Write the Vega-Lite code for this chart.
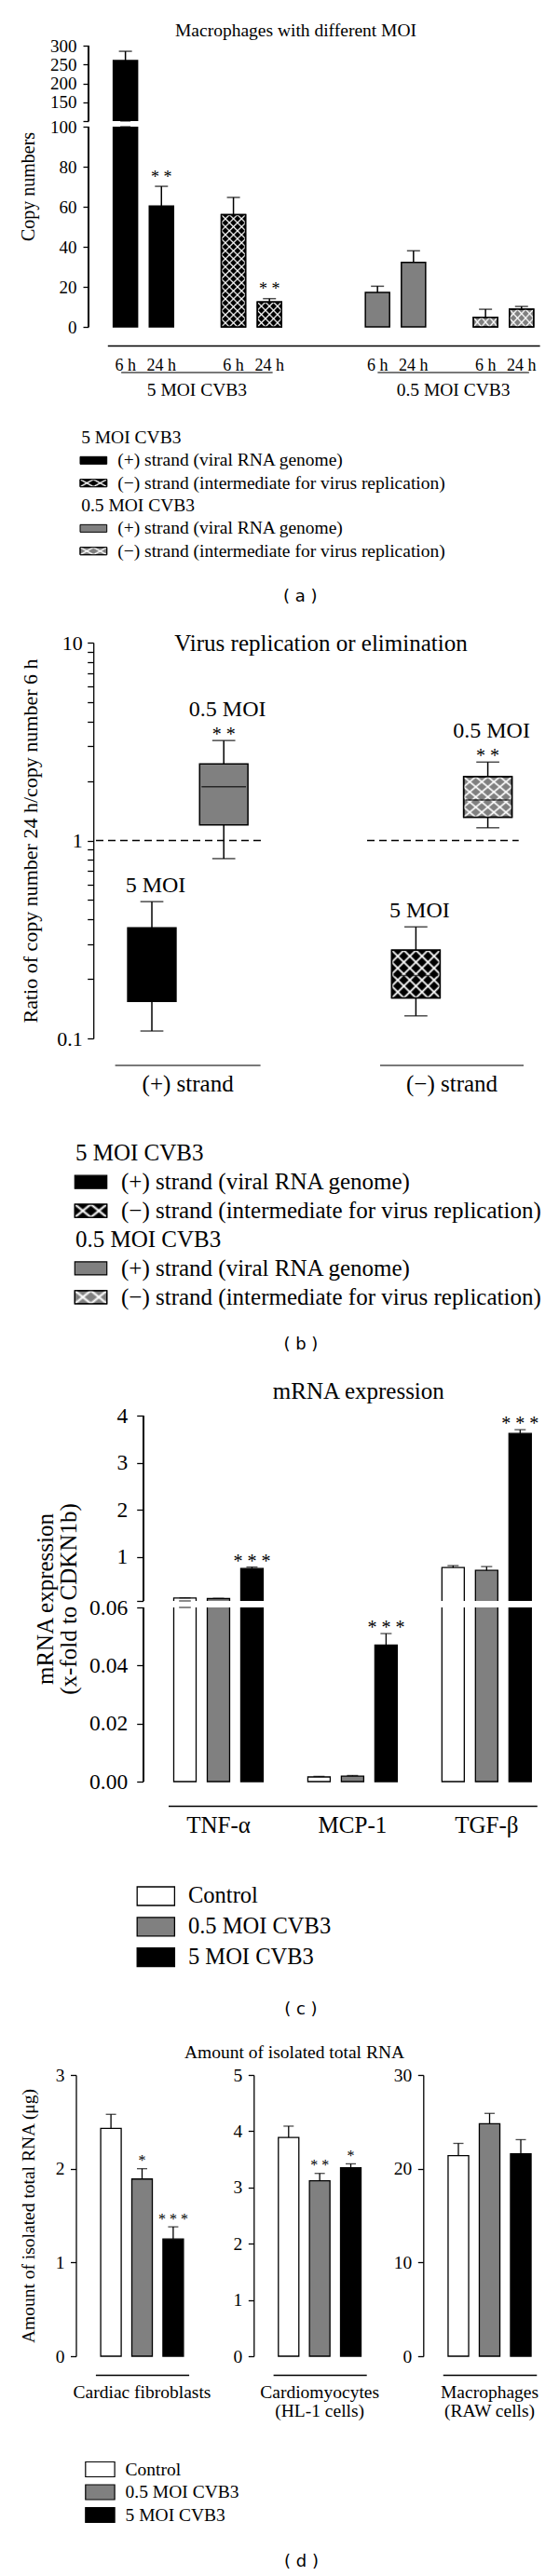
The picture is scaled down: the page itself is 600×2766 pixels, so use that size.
{
"$schema": "https://vega.github.io/schema/vega-lite/v6.json",
"width": 600,
"height": 2766,
"padding": 0,
"autosize": {"type": "none"},
"background": "white",
"config": {
  "view": {"stroke": null},
  "font": "Liberation Serif",
  "axis": {"domainColor": "black", "domainWidth": 1.3, "tickColor": "black", "tickWidth": 1.3, "labelColor": "black", "titleColor": "black", "labelFont": "Liberation Serif", "titleFont": "Liberation Serif", "titleFontWeight": "normal", "grid": false, "labelOverlap": false, "labelFlush": false, "labelBound": false, "titleLimit": 1000, "labelLimit": 1000},
  "text": {"color": "black", "font": "Liberation Serif"}
},
"datasets": {
  "a": [
    {"moi": "5 MOI CVB3", "strand": "+", "time": "6 h", "bar": "5+ 6 h", "copies": 260.5, "upper": 285, "sig": ""},
    {"moi": "5 MOI CVB3", "strand": "+", "time": "24 h", "bar": "5+ 24 h", "copies": 60.3, "upper": 70.2, "sig": "* *"},
    {"moi": "5 MOI CVB3", "strand": "−", "time": "6 h", "bar": "5− 6 h", "copies": 56, "upper": 64.7, "sig": ""},
    {"moi": "5 MOI CVB3", "strand": "−", "time": "24 h", "bar": "5− 24 h", "copies": 12.4, "upper": 14.1, "sig": "* *"},
    {"moi": "0.5 MOI CVB3", "strand": "+", "time": "6 h", "bar": "0.5+ 6 h", "copies": 17.2, "upper": 20.3, "sig": ""},
    {"moi": "0.5 MOI CVB3", "strand": "+", "time": "24 h", "bar": "0.5+ 24 h", "copies": 32.2, "upper": 38.0, "sig": ""},
    {"moi": "0.5 MOI CVB3", "strand": "−", "time": "6 h", "bar": "0.5− 6 h", "copies": 4.8, "upper": 8.8, "sig": ""},
    {"moi": "0.5 MOI CVB3", "strand": "−", "time": "24 h", "bar": "0.5− 24 h", "copies": 8.8, "upper": 10.2, "sig": ""}
  ],
  "legendAB": [
    {"row": "h5", "kind": "header", "label": "5 MOI CVB3", "moi": "5 MOI CVB3", "strand": ""},
    {"row": "i1", "kind": "item", "label": "(+) strand (viral RNA genome)", "moi": "5 MOI CVB3", "strand": "+"},
    {"row": "i2", "kind": "item", "label": "(−) strand (intermediate for virus replication)", "moi": "5 MOI CVB3", "strand": "−"},
    {"row": "h05", "kind": "header", "label": "0.5 MOI CVB3", "moi": "0.5 MOI CVB3", "strand": ""},
    {"row": "i3", "kind": "item", "label": "(+) strand (viral RNA genome)", "moi": "0.5 MOI CVB3", "strand": "+"},
    {"row": "i4", "kind": "item", "label": "(−) strand (intermediate for virus replication)", "moi": "0.5 MOI CVB3", "strand": "−"}
  ],
  "b": [
    {"strand": "(+) strand", "moi": "5 MOI", "lower": 0.109, "q1": 0.154, "median": 0.25, "q3": 0.362, "upper": 0.491, "sig": ""},
    {"strand": "(+) strand", "moi": "0.5 MOI", "lower": 0.81, "q1": 1.2, "median": 1.87, "q3": 2.44, "upper": 3.2, "sig": "* *"},
    {"strand": "(−) strand", "moi": "5 MOI", "lower": 0.13, "q1": 0.16, "median": 0.208, "q3": 0.279, "upper": 0.366, "sig": ""},
    {"strand": "(−) strand", "moi": "0.5 MOI", "lower": 1.16, "q1": 1.31, "median": 1.6, "q3": 2.1, "upper": 2.49, "sig": "* *"}
  ],
  "c": [
    {"gene": "TNF-α", "group": "Control", "bar": "TNF-α|Control", "value": 0.12, "upper": 0.125, "sig": ""},
    {"gene": "TNF-α", "group": "0.5 MOI CVB3", "bar": "TNF-α|0.5 MOI CVB3", "value": 0.11, "upper": 0.115, "sig": ""},
    {"gene": "TNF-α", "group": "5 MOI CVB3", "bar": "TNF-α|5 MOI CVB3", "value": 0.75, "upper": 0.78, "sig": "* * *"},
    {"gene": "MCP-1", "group": "Control", "bar": "MCP-1|Control", "value": 0.0016, "upper": 0.0018, "sig": ""},
    {"gene": "MCP-1", "group": "0.5 MOI CVB3", "bar": "MCP-1|0.5 MOI CVB3", "value": 0.0019, "upper": 0.0021, "sig": ""},
    {"gene": "MCP-1", "group": "5 MOI CVB3", "bar": "MCP-1|5 MOI CVB3", "value": 0.047, "upper": 0.051, "sig": "* * *"},
    {"gene": "TGF-β", "group": "Control", "bar": "TGF-β|Control", "value": 0.77, "upper": 0.81, "sig": ""},
    {"gene": "TGF-β", "group": "0.5 MOI CVB3", "bar": "TGF-β|0.5 MOI CVB3", "value": 0.71, "upper": 0.79, "sig": ""},
    {"gene": "TGF-β", "group": "5 MOI CVB3", "bar": "TGF-β|5 MOI CVB3", "value": 3.62, "upper": 3.7, "sig": "* * *"}
  ],
  "legendCD": [
    {"group": "Control"}, {"group": "0.5 MOI CVB3"}, {"group": "5 MOI CVB3"}
  ],
  "d": [
    {"cells": "Cardiac fibroblasts", "group": "Control", "bar": "Cardiac fibroblasts/Control", "amount": 2.43, "upper": 2.58, "sig": ""},
    {"cells": "Cardiac fibroblasts", "group": "0.5 MOI CVB3", "bar": "Cardiac fibroblasts/0.5 MOI CVB3", "amount": 1.89, "upper": 2.0, "sig": "*"},
    {"cells": "Cardiac fibroblasts", "group": "5 MOI CVB3", "bar": "Cardiac fibroblasts/5 MOI CVB3", "amount": 1.25, "upper": 1.38, "sig": "* * *"},
    {"cells": "Cardiomyocytes (HL-1 cells)", "group": "Control", "bar": "Cardiomyocytes (HL-1 cells)/Control", "amount": 3.89, "upper": 4.09, "sig": ""},
    {"cells": "Cardiomyocytes (HL-1 cells)", "group": "0.5 MOI CVB3", "bar": "Cardiomyocytes (HL-1 cells)/0.5 MOI CVB3", "amount": 3.12, "upper": 3.25, "sig": "* *"},
    {"cells": "Cardiomyocytes (HL-1 cells)", "group": "5 MOI CVB3", "bar": "Cardiomyocytes (HL-1 cells)/5 MOI CVB3", "amount": 3.35, "upper": 3.42, "sig": "*"},
    {"cells": "Macrophages (RAW cells)", "group": "Control", "bar": "Macrophages (RAW cells)/Control", "amount": 21.4, "upper": 22.7, "sig": ""},
    {"cells": "Macrophages (RAW cells)", "group": "0.5 MOI CVB3", "bar": "Macrophages (RAW cells)/0.5 MOI CVB3", "amount": 24.8, "upper": 25.9, "sig": ""},
    {"cells": "Macrophages (RAW cells)", "group": "5 MOI CVB3", "bar": "Macrophages (RAW cells)/5 MOI CVB3", "amount": 21.6, "upper": 23.1, "sig": ""}
  ]
},
"layer": [
  {
    "layer": [
      {
        "data": {"name": "a"},
        "layer": [
          {
            "mark": {"type": "bar", "stroke": "black", "strokeWidth": 1.5},
            "encoding": {
              "x": {"field": "bar", "type": "nominal",
                "scale": {"domain": ["5+ 6 h", "5+ 24 h", "a-gap1", "5− 6 h", "5− 24 h", "a-gap2", "a-gap3", "0.5+ 6 h", "0.5+ 24 h", "a-gap4", "0.5− 6 h", "0.5− 24 h"], "range": [115.3, 579.1], "paddingInner": 0.327, "paddingOuter": 0.1635},
                "axis": {"orient": "bottom", "offset": -2395, "ticks": false, "labelAngle": 0, "labelFontSize": 18, "labelPadding": 12, "labelExpr": "indexof(datum.value, ' ') < 0 ? '' : slice(datum.value, indexof(datum.value, ' ') + 1)", "title": null}},
              "y": {"field": "copies", "type": "quantitative",
                "scale": {"domain": [0, 100, 100.01, 300], "range": [351, 136, 130, 49], "nice": false, "zero": false},
                "axis": {"orient": "left", "offset": -95, "domain": false, "values": [0, 20, 40, 60, 80, 100, 100.01, 150, 200, 250, 300], "labelExpr": "datum.value == 100.01 ? '' : datum.label", "tickSize": 6, "labelPadding": 7, "labelFontSize": 19, "title": "Copy numbers", "titleFontSize": 20, "titleAngle": -90, "titleX": -64.4, "titleY": 200, "titleBaseline": "middle", "titleAlign": "center"}},
              "fill": {"condition": {"test": "datum.moi == '0.5 MOI CVB3'", "value": "#808080"}, "value": "black"}
            }
          },
          {
            "transform": [{"filter": "datum.strand == '−'"}],
            "mark": {"type": "bar", "strokeWidth": 0},
            "encoding": {
              "x": {"field": "bar", "type": "nominal"},
              "y": {"field": "copies", "type": "quantitative"},
              "fill": {"condition": [
                {"test": "datum.bar == '5− 6 h'", "value": {"gradient": "linear", "x1": 0, "y1": 0, "x2": 0.24878, "y2": 1.16098, "stops": [{"offset":0.04706,"color":"#fff0"},{"offset":0.05882,"color":"#fff"},{"offset":0.07059,"color":"#fff0"},{"offset":0.10588,"color":"#fff0"},{"offset":0.11765,"color":"#fff"},{"offset":0.12941,"color":"#fff0"},{"offset":0.16471,"color":"#fff0"},{"offset":0.17647,"color":"#fff"},{"offset":0.18824,"color":"#fff0"},{"offset":0.22353,"color":"#fff0"},{"offset":0.23529,"color":"#fff"},{"offset":0.24706,"color":"#fff0"},{"offset":0.28235,"color":"#fff0"},{"offset":0.29412,"color":"#fff"},{"offset":0.30588,"color":"#fff0"},{"offset":0.34118,"color":"#fff0"},{"offset":0.35294,"color":"#fff"},{"offset":0.36471,"color":"#fff0"},{"offset":0.4,"color":"#fff0"},{"offset":0.41176,"color":"#fff"},{"offset":0.42353,"color":"#fff0"},{"offset":0.45882,"color":"#fff0"},{"offset":0.47059,"color":"#fff"},{"offset":0.48235,"color":"#fff0"},{"offset":0.51765,"color":"#fff0"},{"offset":0.52941,"color":"#fff"},{"offset":0.54118,"color":"#fff0"},{"offset":0.57647,"color":"#fff0"},{"offset":0.58824,"color":"#fff"},{"offset":0.6,"color":"#fff0"},{"offset":0.63529,"color":"#fff0"},{"offset":0.64706,"color":"#fff"},{"offset":0.65882,"color":"#fff0"},{"offset":0.69412,"color":"#fff0"},{"offset":0.70588,"color":"#fff"},{"offset":0.71765,"color":"#fff0"},{"offset":0.75294,"color":"#fff0"},{"offset":0.76471,"color":"#fff"},{"offset":0.77647,"color":"#fff0"},{"offset":0.81176,"color":"#fff0"},{"offset":0.82353,"color":"#fff"},{"offset":0.83529,"color":"#fff0"},{"offset":0.87059,"color":"#fff0"},{"offset":0.88235,"color":"#fff"},{"offset":0.89412,"color":"#fff0"},{"offset":0.92941,"color":"#fff0"},{"offset":0.94118,"color":"#fff"},{"offset":0.95294,"color":"#fff0"}]}},
                {"test": "datum.bar == '5− 24 h'", "value": {"gradient": "linear", "x1": 0, "y1": 0, "x2": 1, "y2": 1, "stops": [{"offset":0.13333,"color":"#fff0"},{"offset":0.16667,"color":"#fff"},{"offset":0.2,"color":"#fff0"},{"offset":0.3,"color":"#fff0"},{"offset":0.33333,"color":"#fff"},{"offset":0.36667,"color":"#fff0"},{"offset":0.46667,"color":"#fff0"},{"offset":0.5,"color":"#fff"},{"offset":0.53333,"color":"#fff0"},{"offset":0.63333,"color":"#fff0"},{"offset":0.66667,"color":"#fff"},{"offset":0.7,"color":"#fff0"},{"offset":0.8,"color":"#fff0"},{"offset":0.83333,"color":"#fff"},{"offset":0.86667,"color":"#fff0"}]}},
                {"test": "datum.bar == '0.5− 6 h'", "value": {"gradient": "linear", "x1": 0, "y1": 0, "x2": 1.2, "y2": 0.4, "stops": [{"offset":0.2,"color":"#fff0"},{"offset":0.25,"color":"#fff"},{"offset":0.3,"color":"#fff0"},{"offset":0.45,"color":"#fff0"},{"offset":0.5,"color":"#fff"},{"offset":0.55,"color":"#fff0"},{"offset":0.7,"color":"#fff0"},{"offset":0.75,"color":"#fff"},{"offset":0.8,"color":"#fff0"}]}}
              ], "value": {"gradient": "linear", "x1": 0, "y1": 0, "x2": 1.15385, "y2": 0.76923, "stops": [{"offset":0.16,"color":"#fff0"},{"offset":0.2,"color":"#fff"},{"offset":0.24,"color":"#fff0"},{"offset":0.36,"color":"#fff0"},{"offset":0.4,"color":"#fff"},{"offset":0.44,"color":"#fff0"},{"offset":0.56,"color":"#fff0"},{"offset":0.6,"color":"#fff"},{"offset":0.64,"color":"#fff0"},{"offset":0.76,"color":"#fff0"},{"offset":0.8,"color":"#fff"},{"offset":0.84,"color":"#fff0"}]}}
            }
          },
          {
            "transform": [{"filter": "datum.strand == '−'"}],
            "mark": {"type": "bar", "stroke": "black", "strokeWidth": 1.5},
            "encoding": {
              "x": {"field": "bar", "type": "nominal"},
              "y": {"field": "copies", "type": "quantitative"},
              "fill": {"condition": [
                {"test": "datum.bar == '5− 6 h'", "value": {"gradient": "linear", "x1": 0, "y1": 1, "x2": 0.24878, "y2": -0.16098, "stops": [{"offset":0.04706,"color":"#fff0"},{"offset":0.05882,"color":"#fff"},{"offset":0.07059,"color":"#fff0"},{"offset":0.10588,"color":"#fff0"},{"offset":0.11765,"color":"#fff"},{"offset":0.12941,"color":"#fff0"},{"offset":0.16471,"color":"#fff0"},{"offset":0.17647,"color":"#fff"},{"offset":0.18824,"color":"#fff0"},{"offset":0.22353,"color":"#fff0"},{"offset":0.23529,"color":"#fff"},{"offset":0.24706,"color":"#fff0"},{"offset":0.28235,"color":"#fff0"},{"offset":0.29412,"color":"#fff"},{"offset":0.30588,"color":"#fff0"},{"offset":0.34118,"color":"#fff0"},{"offset":0.35294,"color":"#fff"},{"offset":0.36471,"color":"#fff0"},{"offset":0.4,"color":"#fff0"},{"offset":0.41176,"color":"#fff"},{"offset":0.42353,"color":"#fff0"},{"offset":0.45882,"color":"#fff0"},{"offset":0.47059,"color":"#fff"},{"offset":0.48235,"color":"#fff0"},{"offset":0.51765,"color":"#fff0"},{"offset":0.52941,"color":"#fff"},{"offset":0.54118,"color":"#fff0"},{"offset":0.57647,"color":"#fff0"},{"offset":0.58824,"color":"#fff"},{"offset":0.6,"color":"#fff0"},{"offset":0.63529,"color":"#fff0"},{"offset":0.64706,"color":"#fff"},{"offset":0.65882,"color":"#fff0"},{"offset":0.69412,"color":"#fff0"},{"offset":0.70588,"color":"#fff"},{"offset":0.71765,"color":"#fff0"},{"offset":0.75294,"color":"#fff0"},{"offset":0.76471,"color":"#fff"},{"offset":0.77647,"color":"#fff0"},{"offset":0.81176,"color":"#fff0"},{"offset":0.82353,"color":"#fff"},{"offset":0.83529,"color":"#fff0"},{"offset":0.87059,"color":"#fff0"},{"offset":0.88235,"color":"#fff"},{"offset":0.89412,"color":"#fff0"},{"offset":0.92941,"color":"#fff0"},{"offset":0.94118,"color":"#fff"},{"offset":0.95294,"color":"#fff0"}]}},
                {"test": "datum.bar == '5− 24 h'", "value": {"gradient": "linear", "x1": 0, "y1": 1, "x2": 1, "y2": 0, "stops": [{"offset":0.13333,"color":"#fff0"},{"offset":0.16667,"color":"#fff"},{"offset":0.2,"color":"#fff0"},{"offset":0.3,"color":"#fff0"},{"offset":0.33333,"color":"#fff"},{"offset":0.36667,"color":"#fff0"},{"offset":0.46667,"color":"#fff0"},{"offset":0.5,"color":"#fff"},{"offset":0.53333,"color":"#fff0"},{"offset":0.63333,"color":"#fff0"},{"offset":0.66667,"color":"#fff"},{"offset":0.7,"color":"#fff0"},{"offset":0.8,"color":"#fff0"},{"offset":0.83333,"color":"#fff"},{"offset":0.86667,"color":"#fff0"}]}},
                {"test": "datum.bar == '0.5− 6 h'", "value": {"gradient": "linear", "x1": 0, "y1": 1, "x2": 1.2, "y2": 0.6, "stops": [{"offset":0.2,"color":"#fff0"},{"offset":0.25,"color":"#fff"},{"offset":0.3,"color":"#fff0"},{"offset":0.45,"color":"#fff0"},{"offset":0.5,"color":"#fff"},{"offset":0.55,"color":"#fff0"},{"offset":0.7,"color":"#fff0"},{"offset":0.75,"color":"#fff"},{"offset":0.8,"color":"#fff0"}]}}
              ], "value": {"gradient": "linear", "x1": 0, "y1": 1, "x2": 1.15385, "y2": 0.23077, "stops": [{"offset":0.16,"color":"#fff0"},{"offset":0.2,"color":"#fff"},{"offset":0.24,"color":"#fff0"},{"offset":0.36,"color":"#fff0"},{"offset":0.4,"color":"#fff"},{"offset":0.44,"color":"#fff0"},{"offset":0.56,"color":"#fff0"},{"offset":0.6,"color":"#fff"},{"offset":0.64,"color":"#fff0"},{"offset":0.76,"color":"#fff0"},{"offset":0.8,"color":"#fff"},{"offset":0.84,"color":"#fff0"}]}}
            }
          },
          {
            "mark": {"type": "bar", "fill": "white", "width": {"band": 1.25}},
            "encoding": {
              "x": {"field": "bar", "type": "nominal"},
              "y": {"datum": 100},
              "y2": {"datum": 100.01}
            }
          },
          {
            "mark": {"type": "rule", "color": "black", "strokeWidth": 1.3},
            "encoding": {
              "x": {"datum": "5+ 6 h", "bandPosition": -1.0235},
              "y": {"datum": 0},
              "y2": {"datum": 100}
            }
          },
          {
            "mark": {"type": "rule", "color": "black", "strokeWidth": 1.3},
            "encoding": {
              "x": {"datum": "5+ 6 h", "bandPosition": -1.0235},
              "y": {"datum": 100.01},
              "y2": {"datum": 300}
            }
          },
          {
            "data": {"values": [{}]},
            "mark": {"type": "tick", "orient": "horizontal", "size": 11, "thickness": 1.3, "color": "black"},
            "encoding": {
              "x": {"datum": "5+ 6 h", "bandPosition": -1.0427},
              "y": {"datum": 100}
            }
          },
          {
            "data": {"values": [{}]},
            "mark": {"type": "tick", "orient": "horizontal", "size": 11, "thickness": 1.3, "color": "black"},
            "encoding": {
              "x": {"datum": "5+ 6 h", "bandPosition": -1.0427},
              "y": {"datum": 100.01}
            }
          },
          {
            "mark": {"type": "rule", "color": "black", "strokeWidth": 1.5},
            "encoding": {
              "x": {"field": "bar", "type": "nominal"},
              "y": {"field": "copies", "type": "quantitative"},
              "y2": {"field": "upper"}
            }
          },
          {
            "mark": {"type": "tick", "orient": "horizontal", "size": 14, "thickness": 1.5, "color": "black"},
            "encoding": {
              "x": {"field": "bar", "type": "nominal"},
              "y": {"field": "upper", "type": "quantitative"}
            }
          },
          {
            "mark": {"type": "text", "fontSize": 18, "baseline": "alphabetic", "dy": -4.5},
            "encoding": {
              "x": {"field": "bar", "type": "nominal"},
              "y": {"field": "upper", "type": "quantitative"},
              "text": {"field": "sig"}
            }
          }
        ]
      },
      {
        "data": {"values": [{"moi": "5 MOI CVB3"}, {"moi": "0.5 MOI CVB3"}]},
        "mark": {"type": "tick", "orient": "horizontal", "size": 162.5, "thickness": 1.3, "color": "black", "yOffset": 49},
        "encoding": {
          "x": {"field": "moi", "type": "nominal",
            "scale": {"domain": ["5 MOI CVB3", "0.5 MOI CVB3"], "range": [130, 568], "paddingInner": 0.4087, "paddingOuter": 0},
            "axis": {"orient": "bottom", "offset": -2365, "domain": false, "ticks": false, "labelAngle": 0, "labelFontSize": 19.5, "labelPadding": 8, "title": "Macrophages with different MOI", "titleFontSize": 19.5, "titleX": 317, "titleY": -369, "titleBaseline": "middle", "titleAlign": "center"}},
          "y": {"datum": 0}
        }
      }
    ],
    "resolve": {"scale": {"x": "independent"}}
  },
  {
    "data": {"name": "legendAB"},
    "layer": [
      {
        "transform": [{"filter": "datum.kind == 'item'"}],
        "mark": {"type": "bar", "stroke": "black", "strokeWidth": 1},
        "encoding": {
          "y": {"field": "row", "type": "nominal", "scale": {"domain": ["h5", "i1", "i2", "h05", "i3", "i4"], "range": [457.83, 603.87], "paddingInner": 0.671, "paddingOuter": 0.3355}, "axis": null},
          "x": {"datum": 0, "type": "quantitative", "scale": {"domain": [0, 1], "range": [86, 114.7], "zero": false, "nice": false},
            "axis": {"orient": "bottom", "offset": -2125.3, "domain": false, "ticks": false, "labels": false, "title": "( a )", "titleFont": "DejaVu Sans", "titleFontSize": 18, "titleX": 321.7, "titleY": 0, "titleBaseline": "middle", "titleAlign": "center"}},
          "x2": {"datum": 1},
          "fill": {"condition": {"test": "datum.moi == '0.5 MOI CVB3'", "value": "#808080"}, "value": "black"}
        }
      },
      {
        "transform": [{"filter": "datum.kind == 'item' && datum.strand == '−'"}],
        "mark": {"type": "bar", "strokeWidth": 0},
        "encoding": {
          "y": {"field": "row", "type": "nominal"},
          "x": {"datum": 0, "type": "quantitative"},
          "x2": {"datum": 1},
          "fill": {"value": {"gradient": "linear", "x1": 0, "y1": 0, "x2": 1.2, "y2": 0.6, "stops": [{"offset":0.26667,"color":"#fff0"},{"offset":0.33333,"color":"#fff"},{"offset":0.4,"color":"#fff0"},{"offset":0.6,"color":"#fff0"},{"offset":0.66667,"color":"#fff"},{"offset":0.73333,"color":"#fff0"}]}}
        }
      },
      {
        "transform": [{"filter": "datum.kind == 'item' && datum.strand == '−'"}],
        "mark": {"type": "bar", "stroke": "black", "strokeWidth": 1},
        "encoding": {
          "y": {"field": "row", "type": "nominal"},
          "x": {"datum": 0, "type": "quantitative"},
          "x2": {"datum": 1},
          "fill": {"value": {"gradient": "linear", "x1": 0, "y1": 1, "x2": 1.2, "y2": 0.4, "stops": [{"offset":0.26667,"color":"#fff0"},{"offset":0.33333,"color":"#fff"},{"offset":0.4,"color":"#fff0"},{"offset":0.6,"color":"#fff0"},{"offset":0.66667,"color":"#fff"},{"offset":0.73333,"color":"#fff0"}]}}
        }
      },
      {
        "transform": [{"filter": "datum.kind == 'header'"}],
        "mark": {"type": "text", "align": "left", "baseline": "middle", "fontSize": 19.5},
        "encoding": {
          "y": {"field": "row", "type": "nominal"},
          "x": {"datum": 0.04, "type": "quantitative"},
          "text": {"field": "label"}
        }
      },
      {
        "transform": [{"filter": "datum.kind == 'item'"}],
        "mark": {"type": "text", "align": "left", "baseline": "middle", "fontSize": 19.5},
        "encoding": {
          "y": {"field": "row", "type": "nominal"},
          "x": {"datum": 1.4, "type": "quantitative"},
          "text": {"field": "label"}
        }
      }
    ]
  },
  {
    "data": {"name": "b"},
    "layer": [
      {
        "mark": {"type": "bar", "width": 1.5, "fill": "black"},
        "encoding": {
          "x": {"field": "strand", "type": "nominal",
            "scale": {"domain": ["(+) strand", "(−) strand"], "range": [59.9, 626.7], "paddingInner": 0, "paddingOuter": 0},
            "axis": {"orient": "bottom", "offset": -1622, "domain": false, "ticks": false, "labelAngle": 0, "labelFontSize": 25, "labelPadding": 7.5, "title": "Virus replication or elimination", "titleFontSize": 25, "titleX": 344, "titleY": -454, "titleBaseline": "middle", "titleAlign": "center"}},
          "xOffset": {"field": "moi", "type": "nominal", "scale": {"domain": ["5 MOI", "0.5 MOI"], "paddingInner": 0.328, "paddingOuter": 1.16}},
          "y": {"field": "lower", "type": "quantitative",
            "scale": {"type": "log", "domain": [0.1, 10], "range": [1115, 690], "nice": false},
            "axis": {"orient": "left", "offset": -100.2, "values": [0.1, 0.2, 0.3, 0.4, 0.5, 0.6, 0.7, 0.8, 0.9, 1, 2, 3, 4, 5, 6, 7, 8, 9, 10], "labelExpr": "datum.value == 0.1 ? '0.1' : datum.value == 1 ? '1' : datum.value == 10 ? '10' : ''", "tickSize": 6.5, "labelPadding": 5.5, "labelFontSize": 22, "title": "Ratio of copy number 24 h/copy number 6 h", "titleFontSize": 22, "titleAngle": -90, "titleX": -67.7, "titleY": 902.5, "titleBaseline": "middle", "titleAlign": "center"}},
          "y2": {"field": "upper"}
        }
      },
      {
        "mark": {"type": "tick", "orient": "horizontal", "size": 24.7, "thickness": 1.5, "color": "black"},
        "encoding": {
          "x": {"field": "strand", "type": "nominal"},
          "xOffset": {"field": "moi", "type": "nominal"},
          "y": {"field": "lower", "type": "quantitative", "scale": {"type": "log"}}
        }
      },
      {
        "mark": {"type": "tick", "orient": "horizontal", "size": 24.7, "thickness": 1.5, "color": "black"},
        "encoding": {
          "x": {"field": "strand", "type": "nominal"},
          "xOffset": {"field": "moi", "type": "nominal"},
          "y": {"field": "upper", "type": "quantitative", "scale": {"type": "log"}}
        }
      },
      {
        "mark": {"type": "bar", "stroke": "black", "strokeWidth": 1.5},
        "encoding": {
          "x": {"field": "strand", "type": "nominal"},
          "xOffset": {"field": "moi", "type": "nominal"},
          "y": {"field": "q1", "type": "quantitative", "scale": {"type": "log"}},
          "y2": {"field": "q3"},
          "fill": {"condition": {"test": "datum.moi == '0.5 MOI'", "value": "#808080"}, "value": "black"}
        }
      },
      {
        "transform": [{"filter": "datum.strand == '(−) strand'"}],
        "mark": {"type": "bar", "strokeWidth": 0},
        "encoding": {
          "x": {"field": "strand", "type": "nominal"},
          "xOffset": {"field": "moi", "type": "nominal"},
          "y": {"field": "q1", "type": "quantitative", "scale": {"type": "log"}},
          "y2": {"field": "q3"},
          "fill": {"value": {"gradient": "linear", "x1": 0, "y1": 0, "x2": 1, "y2": 1, "stops": [{"offset":0.1,"color":"#fff0"},{"offset":0.125,"color":"#fff"},{"offset":0.15,"color":"#fff0"},{"offset":0.225,"color":"#fff0"},{"offset":0.25,"color":"#fff"},{"offset":0.275,"color":"#fff0"},{"offset":0.35,"color":"#fff0"},{"offset":0.375,"color":"#fff"},{"offset":0.4,"color":"#fff0"},{"offset":0.475,"color":"#fff0"},{"offset":0.5,"color":"#fff"},{"offset":0.525,"color":"#fff0"},{"offset":0.6,"color":"#fff0"},{"offset":0.625,"color":"#fff"},{"offset":0.65,"color":"#fff0"},{"offset":0.725,"color":"#fff0"},{"offset":0.75,"color":"#fff"},{"offset":0.775,"color":"#fff0"},{"offset":0.85,"color":"#fff0"},{"offset":0.875,"color":"#fff"},{"offset":0.9,"color":"#fff0"}]}}
        }
      },
      {
        "transform": [{"filter": "datum.strand == '(−) strand'"}],
        "mark": {"type": "bar", "stroke": "black", "strokeWidth": 1.5},
        "encoding": {
          "x": {"field": "strand", "type": "nominal"},
          "xOffset": {"field": "moi", "type": "nominal"},
          "y": {"field": "q1", "type": "quantitative", "scale": {"type": "log"}},
          "y2": {"field": "q3"},
          "fill": {"value": {"gradient": "linear", "x1": 0, "y1": 1, "x2": 1, "y2": 0, "stops": [{"offset":0.1,"color":"#fff0"},{"offset":0.125,"color":"#fff"},{"offset":0.15,"color":"#fff0"},{"offset":0.225,"color":"#fff0"},{"offset":0.25,"color":"#fff"},{"offset":0.275,"color":"#fff0"},{"offset":0.35,"color":"#fff0"},{"offset":0.375,"color":"#fff"},{"offset":0.4,"color":"#fff0"},{"offset":0.475,"color":"#fff0"},{"offset":0.5,"color":"#fff"},{"offset":0.525,"color":"#fff0"},{"offset":0.6,"color":"#fff0"},{"offset":0.625,"color":"#fff"},{"offset":0.65,"color":"#fff0"},{"offset":0.725,"color":"#fff0"},{"offset":0.75,"color":"#fff"},{"offset":0.775,"color":"#fff0"},{"offset":0.85,"color":"#fff0"},{"offset":0.875,"color":"#fff"},{"offset":0.9,"color":"#fff0"}]}}
        }
      },
      {
        "mark": {"type": "tick", "orient": "horizontal", "size": 47.7, "thickness": 1.5, "color": "black"},
        "encoding": {
          "x": {"field": "strand", "type": "nominal"},
          "xOffset": {"field": "moi", "type": "nominal"},
          "y": {"field": "median", "type": "quantitative", "scale": {"type": "log"}}
        }
      },
      {
        "mark": {"type": "text", "fontSize": 20, "baseline": "alphabetic", "dy": 0},
        "encoding": {
          "x": {"field": "strand", "type": "nominal"},
          "xOffset": {"field": "moi", "type": "nominal"},
          "y": {"field": "upper", "type": "quantitative", "scale": {"type": "log"}},
          "text": {"field": "sig"}
        }
      },
      {
        "transform": [{"filter": "datum.sig != ''"}],
        "mark": {"type": "text", "fontSize": 24, "baseline": "alphabetic", "dy": -26, "dx": 4},
        "encoding": {
          "x": {"field": "strand", "type": "nominal"},
          "xOffset": {"field": "moi", "type": "nominal"},
          "y": {"field": "upper", "type": "quantitative", "scale": {"type": "log"}},
          "text": {"field": "moi"}
        }
      },
      {
        "transform": [{"filter": "datum.sig == ''"}],
        "mark": {"type": "text", "fontSize": 24, "baseline": "alphabetic", "dy": -10.5, "dx": 4},
        "encoding": {
          "x": {"field": "strand", "type": "nominal"},
          "xOffset": {"field": "moi", "type": "nominal"},
          "y": {"field": "upper", "type": "quantitative", "scale": {"type": "log"}},
          "text": {"field": "moi"}
        }
      },
      {
        "data": {"values": [{}]},
        "mark": {"type": "rule", "color": "black", "strokeWidth": 1.5, "strokeDash": [8, 5]},
        "encoding": {
          "x": {"datum": "(+) strand", "bandPosition": 0.152},
          "x2": {"datum": "(+) strand", "bandPosition": 0.794},
          "y": {"datum": 1, "scale": {"type": "log"}}
        }
      },
      {
        "data": {"values": [{}]},
        "mark": {"type": "rule", "color": "black", "strokeWidth": 1.5, "strokeDash": [8, 5]},
        "encoding": {
          "x": {"datum": "(−) strand", "bandPosition": 0.179},
          "x2": {"datum": "(−) strand", "bandPosition": 0.753},
          "y": {"datum": 1, "scale": {"type": "log"}}
        }
      },
      {
        "data": {"values": [{}]},
        "mark": {"type": "tick", "orient": "horizontal", "size": 156, "thickness": 1.3, "color": "black", "yOffset": 29},
        "encoding": {
          "x": {"datum": "(+) strand", "bandPosition": 0.525},
          "y": {"datum": 0.1, "scale": {"type": "log"}}
        }
      },
      {
        "data": {"values": [{}]},
        "mark": {"type": "tick", "orient": "horizontal", "size": 154, "thickness": 1.3, "color": "black", "yOffset": 29},
        "encoding": {
          "x": {"datum": "(−) strand", "bandPosition": 0.4815},
          "y": {"datum": 0.1, "scale": {"type": "log"}}
        }
      }
    ]
  },
  {
    "data": {"name": "legendAB"},
    "layer": [
      {
        "transform": [{"filter": "datum.kind == 'item'"}],
        "mark": {"type": "bar", "stroke": "black", "strokeWidth": 1.2},
        "encoding": {
          "y": {"field": "row", "type": "nominal", "scale": {"domain": ["h5", "i1", "i2", "h05", "i3", "i4"], "range": [1222.85, 1408.25], "paddingInner": 0.547, "paddingOuter": 0.2735}, "axis": null},
          "x": {"datum": 0, "type": "quantitative", "scale": {"domain": [0, 1], "range": [80.3, 114.7], "zero": false, "nice": false},
            "axis": {"orient": "bottom", "offset": -1323, "domain": false, "ticks": false, "labels": false, "title": "( b )", "titleFont": "DejaVu Sans", "titleFontSize": 18, "titleX": 322.4, "titleY": 0, "titleBaseline": "middle", "titleAlign": "center"}},
          "x2": {"datum": 1},
          "fill": {"condition": {"test": "datum.moi == '0.5 MOI CVB3'", "value": "#808080"}, "value": "black"}
        }
      },
      {
        "transform": [{"filter": "datum.kind == 'item' && datum.strand == '−'"}],
        "mark": {"type": "bar", "strokeWidth": 0},
        "encoding": {
          "y": {"field": "row", "type": "nominal"},
          "x": {"datum": 0, "type": "quantitative"},
          "x2": {"datum": 1},
          "fill": {"value": {"gradient": "linear", "x1": 0, "y1": 0, "x2": 1.2, "y2": 0.6, "stops": [{"offset":0.26667,"color":"#fff0"},{"offset":0.33333,"color":"#fff"},{"offset":0.4,"color":"#fff0"},{"offset":0.6,"color":"#fff0"},{"offset":0.66667,"color":"#fff"},{"offset":0.73333,"color":"#fff0"}]}}
        }
      },
      {
        "transform": [{"filter": "datum.kind == 'item' && datum.strand == '−'"}],
        "mark": {"type": "bar", "stroke": "black", "strokeWidth": 1.2},
        "encoding": {
          "y": {"field": "row", "type": "nominal"},
          "x": {"datum": 0, "type": "quantitative"},
          "x2": {"datum": 1},
          "fill": {"value": {"gradient": "linear", "x1": 0, "y1": 1, "x2": 1.2, "y2": 0.4, "stops": [{"offset":0.26667,"color":"#fff0"},{"offset":0.33333,"color":"#fff"},{"offset":0.4,"color":"#fff0"},{"offset":0.6,"color":"#fff0"},{"offset":0.66667,"color":"#fff"},{"offset":0.73333,"color":"#fff0"}]}}
        }
      },
      {
        "transform": [{"filter": "datum.kind == 'header'"}],
        "mark": {"type": "text", "align": "left", "baseline": "middle", "fontSize": 25},
        "encoding": {
          "y": {"field": "row", "type": "nominal"},
          "x": {"datum": 0.02, "type": "quantitative"},
          "text": {"field": "label"}
        }
      },
      {
        "transform": [{"filter": "datum.kind == 'item'"}],
        "mark": {"type": "text", "align": "left", "baseline": "middle", "fontSize": 25},
        "encoding": {
          "y": {"field": "row", "type": "nominal"},
          "x": {"datum": 1.445, "type": "quantitative"},
          "text": {"field": "label"}
        }
      }
    ]
  },
  {
    "data": {"name": "c"},
    "layer": [
      {
        "mark": {"type": "bar", "stroke": "black", "strokeWidth": 1.3},
        "encoding": {
          "x": {"field": "bar", "type": "nominal",
            "scale": {"domain": ["TNF-α|Control", "TNF-α|0.5 MOI CVB3", "TNF-α|5 MOI CVB3", "c-gap1", "MCP-1|Control", "MCP-1|0.5 MOI CVB3", "MCP-1|5 MOI CVB3", "c-gap2", "TGF-β|Control", "TGF-β|0.5 MOI CVB3", "TGF-β|5 MOI CVB3"], "range": [180.5, 576.3], "paddingInner": 0.333, "paddingOuter": 0.1667},
            "axis": {"orient": "bottom", "offset": -827, "ticks": false, "labelAngle": 0, "labelFontSize": 25, "labelPadding": 8, "labelExpr": "indexof(datum.value, '|0.5') > 0 ? slice(datum.value, 0, indexof(datum.value, '|')) : ''", "title": "mRNA expression", "titleFontSize": 25, "titleX": 384.3, "titleY": -446, "titleBaseline": "middle", "titleAlign": "center"}},
          "y": {"field": "value", "type": "quantitative",
            "scale": {"domain": [0, 0.06, 0.06001, 4], "range": [1913, 1726, 1719, 1520], "nice": false, "zero": false},
            "axis": {"orient": "left", "offset": -153.7, "domain": false, "values": [0, 0.02, 0.04, 0.06, 0.06001, 1, 2, 3, 4], "labelExpr": "datum.value == 0.06001 ? '' : datum.value < 0.5 ? format(datum.value, '.2f') : format(datum.value, 'd')", "tickSize": 7, "labelPadding": 10, "labelFontSize": 23.5, "title": ["mRNA expression", "(x-fold to CDKN1b)"], "titleFontSize": 25, "titleLineHeight": 25, "titleAngle": -90, "titleX": -104.95, "titleY": 1716.5, "titleBaseline": "middle", "titleAlign": "center"}},
          "fill": {"condition": [{"test": "datum.group == 'Control'", "value": "white"}, {"test": "datum.group == '0.5 MOI CVB3'", "value": "#808080"}], "value": "black"}
        }
      },
      {
        "mark": {"type": "bar", "fill": "white", "width": {"band": 1.25}},
        "encoding": {
          "x": {"field": "bar", "type": "nominal"},
          "y": {"datum": 0.06},
          "y2": {"datum": 0.06001}
        }
      },
      {
        "mark": {"type": "rule", "color": "black", "strokeWidth": 1.3},
        "encoding": {
          "x": {"datum": "TNF-α|Control", "bandPosition": -1.3667},
          "y": {"datum": 0},
          "y2": {"datum": 0.06}
        }
      },
      {
        "mark": {"type": "rule", "color": "black", "strokeWidth": 1.3},
        "encoding": {
          "x": {"datum": "TNF-α|Control", "bandPosition": -1.3667},
          "y": {"datum": 0.06001},
          "y2": {"datum": 4}
        }
      },
      {
        "data": {"values": [{}]},
        "mark": {"type": "tick", "orient": "horizontal", "size": 12.6, "thickness": 1.3, "color": "black"},
        "encoding": {
          "x": {"datum": "TNF-α|Control", "bandPosition": -1.396},
          "y": {"datum": 0.06}
        }
      },
      {
        "data": {"values": [{}]},
        "mark": {"type": "tick", "orient": "horizontal", "size": 12.6, "thickness": 1.3, "color": "black"},
        "encoding": {
          "x": {"datum": "TNF-α|Control", "bandPosition": -1.396},
          "y": {"datum": 0.06001}
        }
      },
      {
        "mark": {"type": "rule", "color": "black", "strokeWidth": 1.3},
        "encoding": {
          "x": {"field": "bar", "type": "nominal"},
          "y": {"field": "value", "type": "quantitative"},
          "y2": {"field": "upper"}
        }
      },
      {
        "mark": {"type": "tick", "orient": "horizontal", "size": 12, "thickness": 1.3, "color": "black"},
        "encoding": {
          "x": {"field": "bar", "type": "nominal"},
          "y": {"field": "upper", "type": "quantitative"}
        }
      },
      {
        "mark": {"type": "text", "fontSize": 20, "baseline": "alphabetic", "dy": 0},
        "encoding": {
          "x": {"field": "bar", "type": "nominal"},
          "y": {"field": "upper", "type": "quantitative"},
          "text": {"field": "sig"}
        }
      }
    ]
  },
  {
    "data": {"name": "legendCD"},
    "layer": [
      {
        "mark": {"type": "bar", "stroke": "black", "strokeWidth": 1.3},
        "encoding": {
          "y": {"field": "group", "type": "nominal", "scale": {"domain": ["Control", "0.5 MOI CVB3", "5 MOI CVB3"], "range": [2019.57, 2118.12], "paddingInner": 0.391, "paddingOuter": 0.1956}, "axis": null},
          "x": {"datum": 0, "type": "quantitative", "scale": {"domain": [0, 1], "range": [147.2, 187.4], "zero": false, "nice": false},
            "axis": {"orient": "bottom", "offset": -609, "domain": false, "ticks": false, "labels": false, "title": "( c )", "titleFont": "DejaVu Sans", "titleFontSize": 18, "titleX": 322.4, "titleY": 0, "titleBaseline": "middle", "titleAlign": "center"}},
          "x2": {"datum": 1},
          "fill": {"condition": [{"test": "datum.group == 'Control'", "value": "white"}, {"test": "datum.group == '0.5 MOI CVB3'", "value": "#808080"}], "value": "black"}
        }
      },
      {
        "mark": {"type": "text", "align": "left", "baseline": "middle", "fontSize": 24.5},
        "encoding": {
          "y": {"field": "group", "type": "nominal"},
          "x": {"datum": 1.363, "type": "quantitative"},
          "text": {"field": "group"}
        }
      }
    ]
  },
  {
    "data": {"name": "d"},
    "transform": [{"filter": "datum.cells == 'Cardiac fibroblasts'"}],
    "layer": [
      {
        "mark": {"type": "bar", "stroke": "black", "strokeWidth": 1.3},
        "encoding": {
          "x": {"field": "bar", "type": "nominal",
            "scale": {"domain": ["Cardiac fibroblasts/Control", "Cardiac fibroblasts/0.5 MOI CVB3", "Cardiac fibroblasts/5 MOI CVB3"], "range": [102.4, 202.6], "paddingInner": 0.341, "paddingOuter": 0.1705},
            "axis": {"orient": "bottom", "offset": -216, "ticks": false, "labelAngle": 0, "labelFontSize": 19.5, "labelPadding": 9.5, "labelLineHeight": 20, "labelExpr": "indexof(datum.value, '/0.5') > 0 ? split(replace(slice(datum.value, 0, indexof(datum.value, '/')), ' (', '|('), '|') : ''", "title": null}},
          "y": {"field": "amount", "type": "quantitative",
            "scale": {"domain": [0, 3], "range": [2530, 2228], "nice": false, "zero": false},
            "axis": {"orient": "left", "offset": -81.5, "values": [0, 1, 2, 3], "format": "d", "tickSize": 6, "labelPadding": 6.5, "labelFontSize": 19.5, "title": "Amount of isolated total RNA (μg)", "titleFontSize": 19.5, "titleAngle": -90, "titleX": -50.9, "titleY": 2379, "titleBaseline": "middle", "titleAlign": "center"}},
          "fill": {"condition": [{"test": "datum.group == 'Control'", "value": "white"}, {"test": "datum.group == '0.5 MOI CVB3'", "value": "#808080"}], "value": "black"}
        }
      },
      {
        "mark": {"type": "rule", "color": "black", "strokeWidth": 1.3},
        "encoding": {
          "x": {"field": "bar", "type": "nominal"},
          "y": {"field": "amount", "type": "quantitative"},
          "y2": {"field": "upper"}
        }
      },
      {
        "mark": {"type": "tick", "orient": "horizontal", "size": 11, "thickness": 1.3, "color": "black"},
        "encoding": {
          "x": {"field": "bar", "type": "nominal"},
          "y": {"field": "upper", "type": "quantitative"}
        }
      },
      {
        "mark": {"type": "text", "fontSize": 16, "baseline": "alphabetic", "dy": -3.5},
        "encoding": {
          "x": {"field": "bar", "type": "nominal"},
          "y": {"field": "upper", "type": "quantitative"},
          "text": {"field": "sig"}
        }
      }
    ]
  },
  {
    "data": {"name": "d"},
    "transform": [{"filter": "datum.cells == 'Cardiomyocytes (HL-1 cells)'"}],
    "layer": [
      {
        "mark": {"type": "bar", "stroke": "black", "strokeWidth": 1.3},
        "encoding": {
          "x": {"field": "bar", "type": "nominal",
            "scale": {"domain": ["Cardiomyocytes (HL-1 cells)/Control", "Cardiomyocytes (HL-1 cells)/0.5 MOI CVB3", "Cardiomyocytes (HL-1 cells)/5 MOI CVB3"], "range": [293.1, 393.2], "paddingInner": 0.341, "paddingOuter": 0.1705},
            "axis": {"orient": "bottom", "offset": -216, "ticks": false, "labelAngle": 0, "labelFontSize": 19.5, "labelPadding": 9.5, "labelLineHeight": 20, "labelExpr": "indexof(datum.value, '/0.5') > 0 ? split(replace(slice(datum.value, 0, indexof(datum.value, '/')), ' (', '|('), '|') : ''", "title": "Amount of isolated total RNA", "titleFontSize": 19.5, "titleX": 315.5, "titleY": -347, "titleBaseline": "middle", "titleAlign": "center"}},
          "y": {"field": "amount", "type": "quantitative",
            "scale": {"domain": [0, 5], "range": [2530, 2228], "nice": false, "zero": false},
            "axis": {"orient": "left", "offset": -272.3, "values": [0, 1, 2, 3, 4, 5], "format": "d", "tickSize": 6, "labelPadding": 6.5, "labelFontSize": 19.5, "title": null}},
          "fill": {"condition": [{"test": "datum.group == 'Control'", "value": "white"}, {"test": "datum.group == '0.5 MOI CVB3'", "value": "#808080"}], "value": "black"}
        }
      },
      {
        "mark": {"type": "rule", "color": "black", "strokeWidth": 1.3},
        "encoding": {
          "x": {"field": "bar", "type": "nominal"},
          "y": {"field": "amount", "type": "quantitative"},
          "y2": {"field": "upper"}
        }
      },
      {
        "mark": {"type": "tick", "orient": "horizontal", "size": 11, "thickness": 1.3, "color": "black"},
        "encoding": {
          "x": {"field": "bar", "type": "nominal"},
          "y": {"field": "upper", "type": "quantitative"}
        }
      },
      {
        "mark": {"type": "text", "fontSize": 16, "baseline": "alphabetic", "dy": -3.5},
        "encoding": {
          "x": {"field": "bar", "type": "nominal"},
          "y": {"field": "upper", "type": "quantitative"},
          "text": {"field": "sig"}
        }
      }
    ]
  },
  {
    "data": {"name": "d"},
    "transform": [{"filter": "datum.cells == 'Macrophages (RAW cells)'"}],
    "layer": [
      {
        "mark": {"type": "bar", "stroke": "black", "strokeWidth": 1.3},
        "encoding": {
          "x": {"field": "bar", "type": "nominal",
            "scale": {"domain": ["Macrophages (RAW cells)/Control", "Macrophages (RAW cells)/0.5 MOI CVB3", "Macrophages (RAW cells)/5 MOI CVB3"], "range": [475.25, 575.75], "paddingInner": 0.341, "paddingOuter": 0.1705},
            "axis": {"orient": "bottom", "offset": -216, "ticks": false, "labelAngle": 0, "labelFontSize": 19.5, "labelPadding": 9.5, "labelLineHeight": 20, "labelExpr": "indexof(datum.value, '/0.5') > 0 ? split(replace(slice(datum.value, 0, indexof(datum.value, '/')), ' (', '|('), '|') : ''", "title": null}},
          "y": {"field": "amount", "type": "quantitative",
            "scale": {"domain": [0, 30], "range": [2530, 2228], "nice": false, "zero": false},
            "axis": {"orient": "left", "offset": -454.3, "values": [0, 10, 20, 30], "format": "d", "tickSize": 6, "labelPadding": 6.5, "labelFontSize": 19.5, "title": null}},
          "fill": {"condition": [{"test": "datum.group == 'Control'", "value": "white"}, {"test": "datum.group == '0.5 MOI CVB3'", "value": "#808080"}], "value": "black"}
        }
      },
      {
        "mark": {"type": "rule", "color": "black", "strokeWidth": 1.3},
        "encoding": {
          "x": {"field": "bar", "type": "nominal"},
          "y": {"field": "amount", "type": "quantitative"},
          "y2": {"field": "upper"}
        }
      },
      {
        "mark": {"type": "tick", "orient": "horizontal", "size": 11, "thickness": 1.3, "color": "black"},
        "encoding": {
          "x": {"field": "bar", "type": "nominal"},
          "y": {"field": "upper", "type": "quantitative"}
        }
      }
    ]
  },
  {
    "data": {"name": "legendCD"},
    "layer": [
      {
        "mark": {"type": "bar", "stroke": "black", "strokeWidth": 1.2},
        "encoding": {
          "y": {"field": "group", "type": "nominal", "scale": {"domain": ["Control", "0.5 MOI CVB3", "5 MOI CVB3"], "range": [2639.25, 2712.75], "paddingInner": 0.347, "paddingOuter": 0.1735}, "axis": null},
          "x": {"datum": 0, "type": "quantitative", "scale": {"domain": [0, 1], "range": [91.8, 123.1], "zero": false, "nice": false},
            "axis": {"orient": "bottom", "offset": -16, "domain": false, "ticks": false, "labels": false, "title": "( d )", "titleFont": "DejaVu Sans", "titleFontSize": 18, "titleX": 323, "titleY": 0, "titleBaseline": "middle", "titleAlign": "center"}},
          "x2": {"datum": 1},
          "fill": {"condition": [{"test": "datum.group == 'Control'", "value": "white"}, {"test": "datum.group == '0.5 MOI CVB3'", "value": "#808080"}], "value": "black"}
        }
      },
      {
        "mark": {"type": "text", "align": "left", "baseline": "middle", "fontSize": 19.5},
        "encoding": {
          "y": {"field": "group", "type": "nominal"},
          "x": {"datum": 1.367, "type": "quantitative"},
          "text": {"field": "group"}
        }
      }
    ]
  }
],
"resolve": {"scale": {"x": "independent", "y": "independent", "xOffset": "independent"}}
}
